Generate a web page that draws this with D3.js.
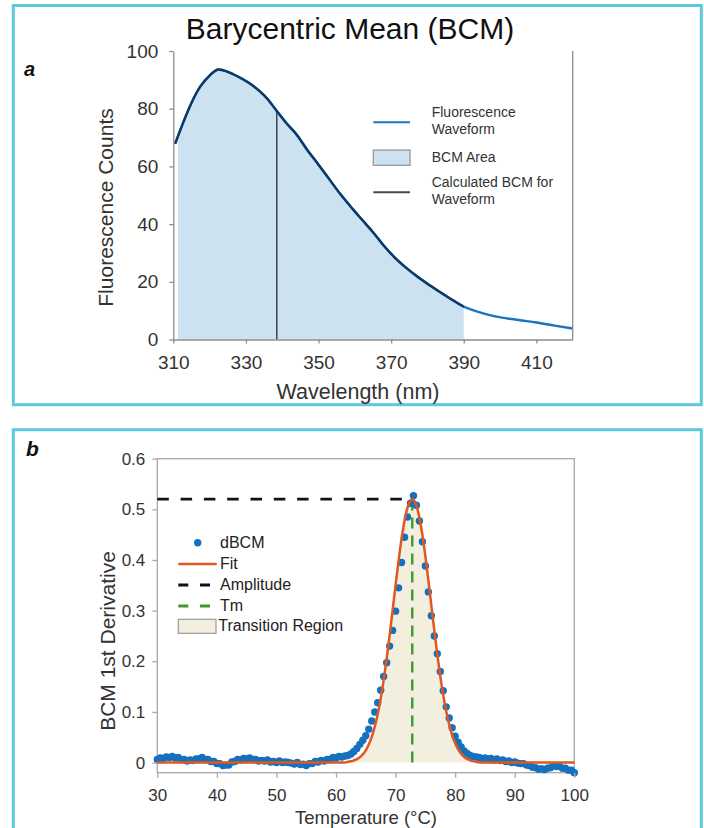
<!DOCTYPE html>
<html>
<head>
<meta charset="utf-8">
<script src="https://cdn.jsdelivr.net/npm/d3@7"></script>
<style>
  html, body { margin: 0; padding: 0; background: #fff; }
  svg { display: block; font-family: "Liberation Sans", Arial, Helvetica, sans-serif; }
</style>
</head>
<body>
<svg id="chart" width="704" height="828"></svg>
<script>
// ---------- Panel a: fluorescence emission spectrum ----------
const wavelengths = [310.5, 312.5, 315, 317.5, 320, 322.5, 325, 328, 331, 334, 336, 338.5, 341, 344, 347,
  350, 353, 356, 359.5, 362, 365, 368, 371, 374, 377, 380, 383, 386, 390, 394, 398, 402, 406, 410, 415, 420];
const counts = [67.8, 74.5, 82, 87.8, 91.5, 93.6, 92.8, 91, 88.8, 85.8, 83.3, 79.2, 75.2, 71, 65.5,
  60.6, 55.5, 50.4, 45.1, 41.5, 37.2, 32.5, 28.4, 25, 22, 19.3, 16.8, 14.4, 11.4, 9.6, 8.2, 7.3, 6.6, 5.9, 4.8, 3.8];
const bcmWavelength = 338.5;
const bcmAreaRange = [311.3, 390];
const wavelengthTicks = [310, 330, 350, 370, 390, 410];
const countTicks = [0, 20, 40, 60, 80, 100];
const legendALabels = [["Fluorescence", "Waveform"], ["BCM Area"], ["Calculated BCM for", "Waveform"]];

// ---------- Panel b: first derivative of BCM vs temperature ----------
const temperatures = [
  30, 30.5, 31, 31.5, 32, 32.5, 33, 33.5, 34, 34.5, 35, 35.5, 36, 36.5, 37, 37.5, 38, 38.5, 39, 39.5,
  40, 40.5, 41, 41.5, 42, 42.5, 43, 43.5, 44, 44.5, 45, 45.5, 46, 46.5, 47, 47.5, 48, 48.5, 49, 49.5,
  50, 50.5, 51, 51.5, 52, 52.5, 53, 53.5, 54, 54.5, 55, 55.5, 56, 56.5, 57, 57.5, 58, 58.5, 59, 59.5,
  60, 60.5, 61, 61.5, 62, 62.5, 63, 63.5, 64, 64.5, 65, 65.5, 66, 66.5, 67, 67.5, 68, 68.5, 69, 69.5,
  70, 70.5, 71, 71.5, 72, 72.5, 73, 73.5, 74, 74.5, 75, 75.5, 76, 76.5, 77, 77.5, 78, 78.5, 79, 79.5,
  80, 80.5, 81, 81.5, 82, 82.5, 83, 83.5, 84, 84.5, 85, 85.5, 86, 86.5, 87, 87.5, 88, 88.5, 89, 89.5,
  90, 90.5, 91, 91.5, 92, 92.5, 93, 93.5, 94, 94.5, 95, 95.5, 96, 96.5, 97, 97.5, 98, 98.5, 99, 99.5, 100];
const dBCM = [
  0.006, 0.009, 0.008, 0.011, 0.010, 0.012, 0.009, 0.010, 0.006, 0.006, 0.003, 0.005, 0.004, 0.007, 0.007, 0.010, 0.006, 0.006, 0.002, 0.002,
  -0.002, -0.002, -0.006, -0.005, -0.005, 0.001, 0.002, 0.006, 0.005, 0.008, 0.007, 0.009, 0.006, 0.006, 0.003, 0.004, 0.003, 0.005, 0.001, 0.002,
  0.000, 0.003, 0.000, 0.001, 0.000, -0.001, -0.003, 0.000, -0.004, -0.003, -0.006, -0.002, -0.002, 0.002, 0.001, 0.004, 0.003, 0.006, 0.006, 0.010,
  0.009, 0.012, 0.011, 0.013, 0.014, 0.017, 0.022, 0.028, 0.036, 0.044, 0.053, 0.066, 0.082, 0.100, 0.118, 0.143, 0.170, 0.197, 0.230, 0.261,
  0.299, 0.345, 0.395, 0.445, 0.485, 0.512, 0.527, 0.508, 0.477, 0.436, 0.388, 0.337, 0.290, 0.250, 0.215, 0.180, 0.142, 0.110, 0.088, 0.069,
  0.052, 0.040, 0.031, 0.023, 0.018, 0.014, 0.012, 0.011, 0.010, 0.008, 0.009, 0.007, 0.008, 0.005, 0.007, 0.004, 0.005, 0.002, 0.003, 0.000,
  0.001, -0.001, -0.002, -0.002, -0.005, -0.006, -0.009, -0.010, -0.013, -0.012, -0.014, -0.011, -0.010, -0.006, -0.008, -0.007, -0.011, -0.011, -0.015, -0.015, -0.020];
// Gaussian fit, sampled
const fitTemps = [30, 61.5, 62, 62.5, 63, 63.5, 64, 64.5, 65, 65.5, 66, 66.5, 67, 67.5, 68, 68.5, 69, 69.5, 70, 70.5,
  71, 71.5, 72, 72.5, 72.8, 73, 73.5, 74, 74.5, 75, 75.5, 76, 76.5, 77, 77.5, 78, 78.5, 79, 79.5, 80,
  80.5, 81, 81.5, 82, 82.5, 83, 83.5, 84, 84.5, 100];
const fitValues = [0, 0, 0.0015, 0.0025, 0.0041, 0.0067, 0.0105, 0.0162, 0.0242, 0.0355, 0.0506, 0.0704, 0.0955, 0.1263, 0.1629, 0.2048, 0.2512, 0.3004, 0.3503, 0.3983,
  0.4416, 0.4775, 0.5035, 0.5176, 0.52, 0.519, 0.5073, 0.4836, 0.4495, 0.4075, 0.3602, 0.3104, 0.2609, 0.2138, 0.1708, 0.1331, 0.1011, 0.0749, 0.0541, 0.0382,
  0.0262, 0.0176, 0.0115, 0.0073, 0.0045, 0.0028, 0.0016, 0.0005, 0, 0];
const amplitude = 0.52;
const tm = 72.8;
const transitionRegion = [63, 82.5];
const temperatureTicks = [30, 40, 50, 60, 70, 80, 90, 100];
const derivativeTicks = [0, 0.1, 0.2, 0.3, 0.4, 0.5, 0.6];
const legendBLabels = ["dBCM", "Fit", "Amplitude", "Tm", "Transition Region"];

// ---------- styling ----------
const frameColor = "#5ec8dc";
const axisColor = "#8c8c8c";
const tickTextColor = "#333";
const waveBlue = "#1b74bd";
const waveNavy = "#0c3966";
const areaBlue = "#cde2f1";
const bcmLineColor = "#4a4a4a";
const dotBlue = "#1570bd";
const fitOrange = "#e0571f";
const tmGreen = "#3f9a2c";
const regionFill = "#f3efdf";

const svg = d3.select("#chart");

// panel frames
svg.append("rect").attr("x", 13.3).attr("y", 5.5).attr("width", 688).attr("height", 399.2)
  .attr("fill", "none").attr("stroke", frameColor).attr("stroke-width", 3);
svg.append("rect").attr("x", 13.3).attr("y", 429.7).attr("width", 688).attr("height", 420)
  .attr("fill", "none").attr("stroke", frameColor).attr("stroke-width", 3);

// ================= Panel a =================
const xA = d3.scaleLinear().domain([310, 420]).range([173.3, 572.7]);
const yA = d3.scaleLinear().domain([0, 100]).range([339.5, 51]);
const gA = svg.append("g");

svg.append("defs").append("clipPath").attr("id", "bcmClip")
  .append("rect")
  .attr("x", xA(bcmAreaRange[0])).attr("y", yA(100))
  .attr("width", xA(bcmAreaRange[1]) - xA(bcmAreaRange[0]))
  .attr("height", yA(0) - yA(100));
svg.select("defs").append("clipPath").attr("id", "navyClip")
  .append("rect")
  .attr("x", xA(310) - 3).attr("y", yA(100))
  .attr("width", xA(bcmAreaRange[1]) - xA(310) + 3)
  .attr("height", yA(0) - yA(100) + 3);

const specPts = wavelengths.map((w, i) => [w, counts[i]]);
const specLine = d3.line().x(d => xA(d[0])).y(d => yA(d[1])).curve(d3.curveMonotoneX);
const specArea = d3.area().x(d => xA(d[0])).y0(yA(0)).y1(d => yA(d[1])).curve(d3.curveMonotoneX);

gA.append("path").datum(specPts).attr("d", specArea)
  .attr("fill", areaBlue).attr("clip-path", "url(#bcmClip)");

// BCM marker
function countAt(w) {
  const i = d3.bisectLeft(wavelengths, w);
  const w0 = wavelengths[i - 1], w1 = wavelengths[i];
  const t = (w - w0) / (w1 - w0);
  return counts[i - 1] + t * (counts[i] - counts[i - 1]);
}
gA.append("line")
  .attr("x1", xA(bcmWavelength)).attr("x2", xA(bcmWavelength))
  .attr("y1", yA(0)).attr("y2", yA(countAt(bcmWavelength)))
  .attr("stroke", bcmLineColor).attr("stroke-width", 1.6);

gA.append("path").datum(specPts).attr("d", specLine)
  .attr("fill", "none").attr("stroke", waveBlue).attr("stroke-width", 2.4);
gA.append("path").datum(specPts).attr("d", specLine)
  .attr("fill", "none").attr("stroke", waveNavy).attr("stroke-width", 2.4)
  .attr("clip-path", "url(#navyClip)");

// axes
const axA_y = gA.append("g").attr("transform", `translate(${xA(310)},0)`)
  .call(d3.axisLeft(yA).tickValues(countTicks).tickSize(4).tickSizeOuter(0).tickPadding(11));
const axA_x = gA.append("g").attr("transform", `translate(0,${yA(0)})`)
  .call(d3.axisBottom(xA).tickValues(wavelengthTicks).tickSize(4).tickSizeOuter(0).tickPadding(12));
[axA_y, axA_x].forEach(ax => {
  ax.selectAll("path, line").attr("stroke", axisColor).attr("stroke-width", 1.3);
  ax.selectAll("text").attr("fill", tickTextColor).attr("font-size", 19).attr("font-family", null);
});
gA.append("line").attr("x1", xA(420)).attr("x2", xA(420)).attr("y1", yA(100)).attr("y2", yA(0))
  .attr("stroke", axisColor).attr("stroke-width", 1.3);

// titles
gA.append("text").attr("x", 350).attr("y", 39).attr("text-anchor", "middle")
  .attr("font-size", 30).attr("fill", "#111").text("Barycentric Mean (BCM)");
gA.append("text").attr("x", 24).attr("y", 76).attr("font-size", 20)
  .attr("font-weight", "bold").attr("font-style", "italic").attr("fill", "#111").text("a");
gA.append("text").attr("transform", "translate(113,207.5) rotate(-90)").attr("text-anchor", "middle")
  .attr("font-size", 21).attr("fill", "#333").text("Fluorescence Counts");
gA.append("text").attr("x", 358).attr("y", 399).attr("text-anchor", "middle")
  .attr("font-size", 21.5).attr("fill", "#333").text("Wavelength (nm)");

// legend a
const legA = gA.append("g").attr("font-size", 14).attr("fill", "#333");
legA.append("line").attr("x1", 373.3).attr("x2", 410).attr("y1", 122.3).attr("y2", 122.3)
  .attr("stroke", waveBlue).attr("stroke-width", 2);
legA.append("rect").attr("x", 373.3).attr("y", 150).attr("width", 36.7).attr("height", 15.3)
  .attr("fill", areaBlue).attr("stroke", "#9a9a9a").attr("stroke-width", 1.3);
legA.append("line").attr("x1", 373.3).attr("x2", 410).attr("y1", 192.3).attr("y2", 192.3)
  .attr("stroke", bcmLineColor).attr("stroke-width", 2);
const legABaselines = [[117.3, 134.3], [161.7], [186.7, 203.7]];
legendALabels.forEach((lines, i) => {
  lines.forEach((s, j) => {
    legA.append("text").attr("x", 431.7).attr("y", legABaselines[i][j]).text(s);
  });
});

// ================= Panel b =================
const xB = d3.scaleLinear().domain([30, 100]).range([157.3, 574.3]);
const yB = d3.scaleLinear().domain([-0.02, 0.6]).range([772.7, 458.7]);
const gB = svg.append("g");

const fitPts = fitTemps.map((t, i) => [t, fitValues[i]]);
const regionPts = fitPts.filter(d => d[0] >= transitionRegion[0] && d[0] <= transitionRegion[1]);
gB.append("path").datum(regionPts)
  .attr("d", d3.area().x(d => xB(d[0])).y0(yB(0)).y1(d => yB(d[1])).curve(d3.curveMonotoneX))
  .attr("fill", regionFill);

// plot box
gB.append("rect").attr("x", xB(30)).attr("y", yB(0.6))
  .attr("width", xB(100) - xB(30)).attr("height", yB(-0.02) - yB(0.6))
  .attr("fill", "none").attr("stroke", "#a8a8a8").attr("stroke-width", 1.3);

// amplitude and Tm guides
gB.append("line").attr("x1", xB(30)).attr("x2", xB(tm)).attr("y1", yB(amplitude)).attr("y2", yB(amplitude))
  .attr("stroke", "#111").attr("stroke-width", 2.8).attr("stroke-dasharray", "11.5,11.8");
gB.append("line").attr("x1", xB(tm)).attr("x2", xB(tm)).attr("y1", yB(0)).attr("y2", yB(amplitude))
  .attr("stroke", tmGreen).attr("stroke-width", 2.4).attr("stroke-dasharray", "11,7");

// data points
gB.append("g").selectAll("circle").data(temperatures.map((t, i) => [t, dBCM[i]])).join("circle")
  .attr("cx", d => xB(d[0])).attr("cy", d => yB(d[1])).attr("r", 3.7).attr("fill", dotBlue);

// fit
gB.append("path").datum(fitPts)
  .attr("d", d3.line().x(d => xB(d[0])).y(d => yB(d[1])).curve(d3.curveMonotoneX))
  .attr("fill", "none").attr("stroke", fitOrange).attr("stroke-width", 2.5);

// axes
const axB_y = gB.append("g").attr("transform", `translate(${xB(30)},0)`)
  .call(d3.axisLeft(yB).tickValues(derivativeTicks).tickSize(5).tickSizeOuter(0).tickPadding(7)
    .tickFormat(d3.format("~g")));
const axB_x = gB.append("g").attr("transform", `translate(0,${yB(-0.02)})`)
  .call(d3.axisBottom(xB).tickValues(temperatureTicks).tickSize(5).tickSizeOuter(0).tickPadding(11));
[axB_y, axB_x].forEach(ax => {
  ax.select(".domain").remove();
  ax.selectAll("line").attr("stroke", "#a8a8a8").attr("stroke-width", 1.3);
  ax.selectAll("text").attr("fill", tickTextColor).attr("font-size", 17).attr("font-family", null);
});

gB.append("text").attr("x", 26).attr("y", 456).attr("font-size", 21)
  .attr("font-weight", "bold").attr("font-style", "italic").attr("fill", "#111").text("b");
gB.append("text").attr("transform", "translate(114.5,641) rotate(-90)").attr("text-anchor", "middle")
  .attr("font-size", 21).attr("fill", "#333").text("BCM 1st Derivative");
gB.append("text").attr("x", 366).attr("y", 823.5).attr("text-anchor", "middle")
  .attr("font-size", 18.5).attr("fill", "#333").text("Temperature (°C)");

// legend b
const legB = gB.append("g").attr("font-size", 16).attr("fill", "#222");
const legBBaselines = [548.3, 569, 590, 611, 630.5];
legB.append("circle").attr("cx", 197.7).attr("cy", 542.7).attr("r", 3.7).attr("fill", dotBlue);
legB.append("line").attr("x1", 178.3).attr("x2", 216.7).attr("y1", 564).attr("y2", 564)
  .attr("stroke", fitOrange).attr("stroke-width", 2.5);
legB.append("line").attr("x1", 178.3).attr("x2", 210).attr("y1", 585).attr("y2", 585)
  .attr("stroke", "#111").attr("stroke-width", 2.8).attr("stroke-dasharray", "10,11.7");
legB.append("line").attr("x1", 178.3).attr("x2", 210).attr("y1", 606).attr("y2", 606)
  .attr("stroke", tmGreen).attr("stroke-width", 2.8).attr("stroke-dasharray", "10,11.7");
legB.append("rect").attr("x", 178.3).attr("y", 619.3).attr("width", 37.7).attr("height", 14)
  .attr("fill", regionFill).attr("stroke", "#9a9a9a").attr("stroke-width", 1.2);
legendBLabels.forEach((s, i) => {
  legB.append("text").attr("x", i === 4 ? 218.3 : 220).attr("y", legBBaselines[i]).text(s);
});
</script>
</body>
</html>
